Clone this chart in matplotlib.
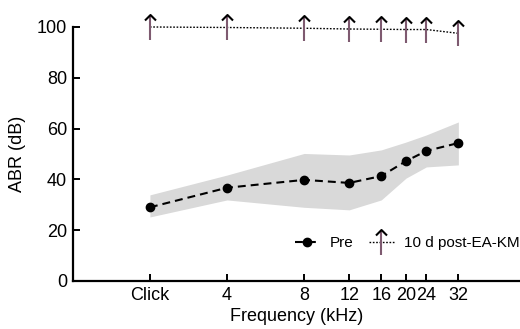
import matplotlib
matplotlib.use("Agg")
import matplotlib.pyplot as plt
import numpy as np
from matplotlib.path import Path
from matplotlib.legend_handler import HandlerTuple

plt.rcParams['font.family'] = ['Liberation Sans', 'DejaVu Sans']

# x positions on a log2 axis, "Click" drawn at 2
freq = [2, 4, 8, 12, 16, 20, 24, 32]
tick_labels = ['Click', '4', '8', '12', '16', '20', '24', '32']

pre = [29, 36.7, 39.8, 38.6, 41.3, 47.2, 51.2, 54.3]
pre_hi = [33.9, 41.7, 50.2, 49.6, 51.6, 54.7, 57.5, 62.6]
pre_lo = [25.2, 31.9, 29.0, 28.0, 31.9, 40.5, 44.9, 45.7]
post = [100, 99.8, 99.5, 99.2, 99.1, 99.0, 99.0, 97.5]

shaft = Path([(0, -0.5), (0, 0.5)], [Path.MOVETO, Path.LINETO])
head = Path([(-0.22, 0.28), (0, 0.5), (0.22, 0.28), (0, -0.5)],
            [Path.MOVETO, Path.LINETO, Path.LINETO, Path.MOVETO])

fig = plt.figure(figsize=(5.2, 3.29), dpi=100)
ax = fig.add_axes([0.14, 0.146, 0.86, 0.772])

ax.fill_between(freq, pre_lo, pre_hi, color='#d9d9d9', lw=0, zorder=1)
l_pre, = ax.plot(freq, pre, color='black', ls=(0, (3.8, 2.4)), lw=1.5,
                 marker='o', ms=6, zorder=3)
l_post, = ax.plot(freq, post, color='black', ls=(0, (1.2, 1.2)), lw=1.0,
                  zorder=3, clip_on=False)
m_shaft, = ax.plot(freq, post, ls='none', marker=shaft, ms=18, mew=1.5,
                   mec='#7e5a70', mfc='none', zorder=4, clip_on=False)
m_head, = ax.plot(freq, post, ls='none', marker=head, ms=18, mew=1.5,
                  mec='black', mfc='none', zorder=5, clip_on=False)

ax.set_xscale('log', base=2)
ax.set_xlim(1, 55.7)
ax.set_ylim(0, 100)
ax.set_xticks(freq)
ax.set_xticklabels(tick_labels)
ax.minorticks_off()
ax.set_yticks([0, 20, 40, 60, 80, 100])

for s in ['top', 'right']:
    ax.spines[s].set_visible(False)
for s in ['left', 'bottom']:
    ax.spines[s].set_linewidth(1.6)
ax.tick_params(direction='in', length=5, width=1.4, labelsize=13, pad=4)

ax.set_xlabel('Frequency (kHz)', fontsize=13, labelpad=3)
ax.set_ylabel('ABR (dB)', fontsize=13, labelpad=8)

leg = fig.legend([l_pre, (l_post, m_shaft, m_head)], ['Pre', '10 d post-EA-KM'],
                 handler_map={tuple: HandlerTuple(ndivide=1, pad=0)},
                 loc='center right', bbox_to_anchor=(1.0, 0.261),
                 ncol=2, frameon=False, fontsize=11, handlelength=1.6,
                 handletextpad=0.7, columnspacing=1.0, borderpad=0,
                 borderaxespad=0)

fig.savefig('out.png', dpi=100)
